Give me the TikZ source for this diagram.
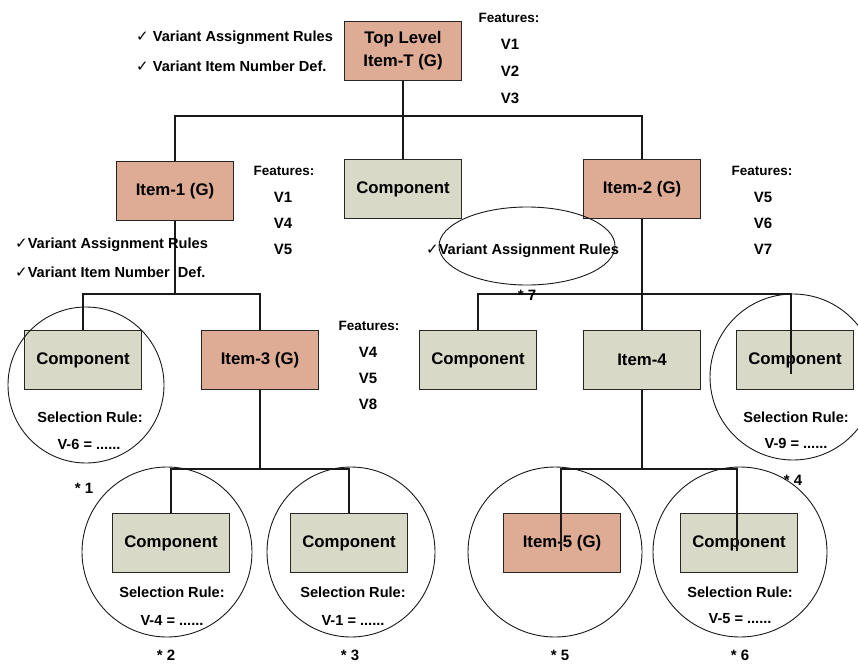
\documentclass[tikz,border=0pt]{standalone}
\usepackage{fontspec}
\setmainfont{Liberation Sans}
\newfontfamily\symfont{DejaVu Sans}
\definecolor{itemfill}{RGB}{222,171,149}
\definecolor{compfill}{RGB}{216,217,199}
\newcommand\chk{{\symfont\fontsize{15}{15}\selectfont ✓}}
\begin{document}
\begin{tikzpicture}[x=1pt,y=-1pt,
  box/.style={draw=black!85, line width=1.3pt, minimum width=117pt, minimum height=59pt,
    inner sep=0pt, font=\fontsize{16.8}{19}\selectfont\bfseries, align=center},
  item/.style={box, fill=itemfill},
  comp/.style={box, fill=compfill},
  link/.style={line width=1.2pt, black!90},
  ring/.style={line width=0.9pt, black!90},
  lbl/.style={font=\fontsize{14.6}{16}\selectfont\bfseries, inner sep=0pt},
  feat/.style={font=\fontsize{13.5}{16}\selectfont\bfseries, inner sep=0pt},
  var/.style={font=\fontsize{15}{16}\selectfont\bfseries, inner sep=0pt},
  star/.style={font=\fontsize{15}{16}\selectfont\bfseries, inner sep=0pt},
]
\useasboundingbox (0,0) rectangle (858,663);
\clip (0,0) rectangle (858,663);

% bus lines
\coordinate (b1) at (0,116);
\coordinate (b2) at (0,294);
\coordinate (b3) at (0,469);

% level 0
\node[item] (top) at (403,51) {Top Level\\[4pt]Item-T (G)};

% level 1
\node[item] (item1) at (175,191) {Item-1 (G)};
\node[comp] (comp0) at (403,189) {Component};
\node[item] (item2) at (642,189) {Item-2 (G)};

% level 2
\node[comp] (compA) at (83,360)  {Component};
\node[item] (item3) at (260,360) {Item-3 (G)};
\node[comp] (compB) at (478,360) {Component};
\node[comp] (item4) at (642,360) {Item-4};
\node[comp] (compC) at (795,360) {Component};

% level 3
\node[comp] (compD) at (171,543) {Component};
\node[comp] (compE) at (349,543) {Component};
\node[item] (item5) at (562,543) {Item-5 (G)};
\node[comp] (compF) at (739,543) {Component};

% connectors
\draw[link] (top.south) -- (top.south |- b1);
\draw[link] (item1.north) -- (item1.north |- b1) -- (item2.north |- b1) -- (item2.north);
\draw[link] (comp0.north) -- (comp0.north |- b1);

\draw[link] (item1.south) -- (item1.south |- b2);
\draw[link] (compA.north) -- (compA.north |- b2) -- (item3.north |- b2) -- (item3.north);

\draw[link] (item2.south) -- (item4.north);
\coordinate (cC) at ([xshift=-4pt]compC.north);
\coordinate (cCend) at ([xshift=-4pt,yshift=-14pt]compC.center);
\draw[link] (compB.north) -- (compB.north |- b2) -- (cC |- b2) -- (cCend);

\draw[link] (item3.south) -- (item3.south |- b3);
\draw[link] (compD.north) -- (compD.north |- b3) -- (compE.north |- b3) -- (compE.north);

\coordinate (c5) at ([xshift=-1pt]item5.north);
\coordinate (c5end) at ([xshift=-1pt,yshift=-8pt]item5.center);
\coordinate (cF) at ([xshift=-2pt]compF.north);
\coordinate (cFend) at ([xshift=-2pt,yshift=-8pt]compF.center);
\draw[link] (item4.south) -- (item4.south |- b3);
\draw[link] (c5end) -- (c5 |- b3) -- (cF |- b3) -- (cFend);

% highlight rings
\draw[ring] (527,246) ellipse [x radius=88pt, y radius=39pt];
\draw[ring] (86,385) circle [radius=78pt];
\draw[ring] (793,377) circle [radius=83pt];
\draw[ring] (167,552) ellipse [x radius=85pt, y radius=85pt];
\draw[ring] (351,552) ellipse [x radius=84pt, y radius=85pt];
\draw[ring] (555,552) ellipse [x radius=87pt, y radius=85pt];
\draw[ring] (740,552) ellipse [x radius=87pt, y radius=85pt];

% rule lists
\node[lbl, anchor=west] (rT1) at (136,38) {\chk\ Variant Assignment Rules};
\node[lbl, anchor=west] (rT2) at (136,66) {\chk\ Variant Item Number Def.};
\node[lbl, anchor=west] (r11) at (15,245) {\chk Variant Assignment Rules};
\node[lbl, anchor=west] (r12) at (15,272) {\chk Variant Item Number\ \ Def.};
\node[lbl, anchor=west] (r21) at (426,251) {\chk Variant Assignment Rules};

% feature lists
\node[feat] (fT) at (509,18) {Features:};
\node[var] (fT1) at (510,44) {V1};
\node[var] (fT2) at (510,71) {V2};
\node[var] (fT3) at (510,98) {V3};

\node[feat] (f1) at (284,171) {Features:};
\node[var] (f11) at (283,197) {V1};
\node[var] (f12) at (283,223) {V4};
\node[var] (f13) at (283,249) {V5};

\node[feat] (f2) at (762,171) {Features:};
\node[var] (f21) at (763,197) {V5};
\node[var] (f22) at (763,223) {V6};
\node[var] (f23) at (763,249) {V7};

\node[feat] (f3) at (369,326) {Features:};
\node[var] (f31) at (368,352) {V4};
\node[var] (f32) at (368,378) {V5};
\node[var] (f33) at (368,404) {V8};

% selection rules
\node[lbl] (sA) at (90,417) {Selection Rule:};
\node[lbl] (sA2) at (89,444) {V-6 = ......};
\node[lbl] (sC) at (796,417) {Selection Rule:};
\node[lbl] (sC2) at (796,443) {V-9 = ......};
\node[lbl] (sD) at (172,592) {Selection Rule:};
\node[lbl] (sD2) at (172,620) {V-4 = ......};
\node[lbl] (sE) at (353,592) {Selection Rule:};
\node[lbl] (sE2) at (353,620) {V-1 = ......};
\node[lbl] (sF) at (740,592) {Selection Rule:};
\node[lbl] (sF2) at (740,619) {V-5 = ......};

% markers
\node[star] (m1) at (84,488) {* 1};
\node[star] (m2) at (166,655) {* 2};
\node[star] (m3) at (350,655) {* 3};
\node[star] (m4) at (793,480) {* 4};
\node[star] (m5) at (560,655) {* 5};
\node[star] (m6) at (740,655) {* 6};
\node[star] (m7) at (527,295) {* 7};
\end{tikzpicture}
\end{document}
